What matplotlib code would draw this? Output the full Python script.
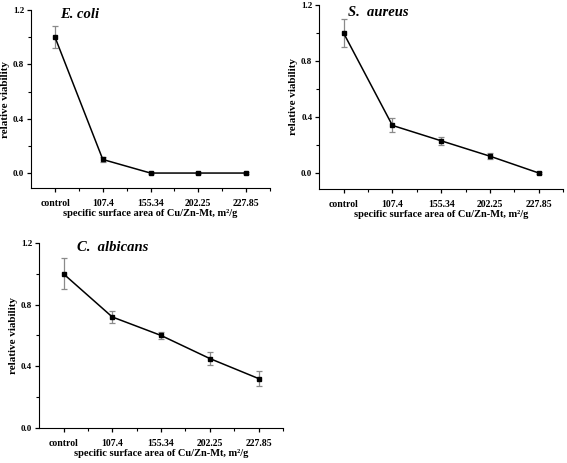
import matplotlib
matplotlib.use("Agg")
import matplotlib.pyplot as plt
from matplotlib.ticker import MultipleLocator, FixedLocator

# data
categories = ["control", "107.4", "155.34", "202.25", "227.85"]
ecoli = [1.0, 0.10, 0.0, 0.0, 0.0]
ecoli_err = [0.08, 0.02, 0.005, 0.005, 0.005]
saureus = [1.0, 0.34, 0.23, 0.12, 0.0]
saureus_err = [0.10, 0.05, 0.03, 0.02, 0.01]
calbicans = [1.0, 0.72, 0.60, 0.45, 0.32]
calbicans_err = [0.10, 0.04, 0.02, 0.04, 0.05]

plt.rcParams["font.family"] = ["Liberation Serif", "DejaVu Serif"]
plt.rcParams["font.weight"] = "bold"

fig = plt.figure(figsize=(5.67, 4.63), dpi=100)

panels = [
    # rect, values, errors, title, title pos, ylim
    ([0.055, 0.594, 0.421, 0.384], ecoli, ecoli_err, "E. coli", (1.1, 1.17), (-0.11, 1.2)),
    ([0.563, 0.592, 0.430, 0.397], saureus, saureus_err, "S.  aureus", (1.1, 1.15), (-0.114, 1.2)),
    ([0.069, 0.076, 0.430, 0.399], calbicans, calbicans_err, "C.  albicans", (1.28, 1.17), (0.0, 1.2)),
]

x = list(range(1, len(categories) + 1))

for rect, vals, errs, title, tpos, ylim in panels:
    ax = fig.add_axes(rect)
    ax.errorbar(x, vals, yerr=errs, color="black", lw=1.1, marker="s", ms=3.5,
                ecolor="#8a8a8a", elinewidth=0.9, capsize=2, capthick=0.9, zorder=3)
    ax.set_xlim(0.5, 5.5)
    ax.set_ylim(*ylim)
    ax.spines["top"].set_visible(False)
    ax.spines["right"].set_visible(False)
    ax.set_xticks(x)
    ax.set_xticklabels(categories)
    ax.xaxis.set_minor_locator(FixedLocator([1.5, 2.5, 3.5, 4.5, 5.5]))
    ax.set_yticks([0.0, 0.4, 0.8, 1.2])
    ax.set_yticklabels(["0.0", "0.4", "0.8", "1.2"])
    ax.yaxis.set_minor_locator(MultipleLocator(0.2))
    ax.tick_params(axis="both", which="major", direction="out", length=3, width=0.9,
                   labelsize=7)
    ax.tick_params(axis="both", which="minor", direction="out", length=2, width=0.8)
    ax.tick_params(axis="x", pad=5)
    ax.tick_params(axis="y", pad=2, labelsize=6.5)
    for lab in ax.get_xticklabels() + ax.get_yticklabels():
        lab.set_fontweight("bold")
    ax.set_xlabel("specific surface area of Cu/Zn-Mt, m\u00b2/g", fontsize=7.5,
                  fontweight="bold", labelpad=1)
    ax.set_ylabel("relative viability", fontsize=8, fontweight="bold", labelpad=2)
    ax.text(tpos[0], tpos[1], title, fontsize=10.5, fontweight="bold", style="italic",
            ha="left", va="center")

plt.savefig("out.png", dpi=100)
